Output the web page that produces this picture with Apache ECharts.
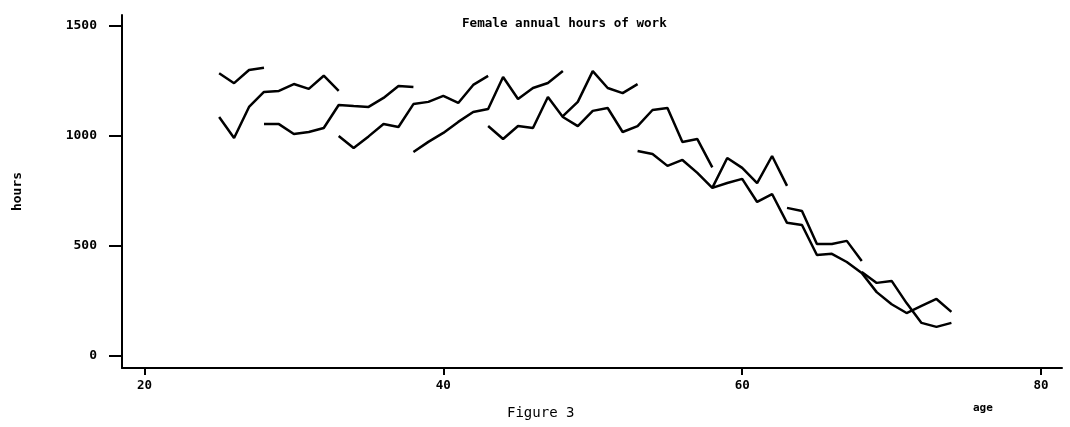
<!DOCTYPE html>
<html>
<head>
<meta charset="utf-8">
<script src="https://cdn.jsdelivr.net/npm/echarts@6/dist/echarts.min.js"></script>
<style>
html, body { margin: 0; padding: 0; background: #fff; }
#main { width: 1070px; height: 427px; }
</style>
</head>
<body>
<div id="main"></div>
<script>
// tick values
var xTicks = [20, 40, 60, 80];
var yTicks = [0, 500, 1000, 1500];

// cohort segments: first age + hours per year of age
var cohortStart = [25, 25, 28, 33, 38, 43, 48, 53, 58, 63, 68];
var cohortA = [1285, 1240, 1300, 1310];
var cohortB = [1086, 991, 1132, 1200, 1205, 1236, 1214, 1274, 1205];
var cohortC = [1054, 1054, 1009, 1018, 1036, 1141, 1136, 1132, 1173, 1227, 1223];
var cohortD = [1000, 945, 998, 1054, 1041, 1145, 1155, 1182, 1150, 1232, 1273];
var cohortE = [927, 973, 1014, 1064, 1109, 1123, 1268, 1168, 1218, 1241, 1295];
var cohortF = [1045, 986, 1045, 1036, 1177, 1086, 1045, 1114, 1127, 1018, 1045, 1118, 1127, 973, 986, 857];
var cohortG = [1090, 1155, 1295, 1218, 1195, 1236];
var cohortH = [932, 918, 864, 891, 832, 764, 786, 805, 700, 736, 605, 595, 459, 464, 427, 377, 290, 235, 195, 227, 259, 200];
var cohortI = [764, 900, 855, 786, 909, 773];
var cohortJ = [673, 659, 509, 509, 523, 432];
var cohortK = [382, 332, 341, 240, 150, 132, 150];

var cohorts = [cohortA, cohortB, cohortC, cohortD, cohortE, cohortF, cohortG, cohortH, cohortI, cohortJ, cohortK];

var mono = '"DejaVu Sans Mono", monospace';

var myChart = echarts.init(document.getElementById('main'));

var series = [];
for (var i = 0; i < cohorts.length; i++) {
    var pts = [];
    for (var j = 0; j < cohorts[i].length; j++) {
        pts.push([cohortStart[i] + j, cohorts[i][j]]);
    }
    series.push({
        type: 'line',
        data: pts,
        showSymbol: false,
        symbol: 'none',
        lineStyle: { color: '#000', width: 2.5 },
        silent: true
    });
}

var option = {
    animation: false,
    backgroundColor: '#fff',
    grid: { left: 122, right: 8, top: 15, bottom: 59 },
    xAxis: {
        type: 'value',
        min: 18.5,
        max: 81.4,
        splitLine: { show: false },
        axisLine: { onZero: false, lineStyle: { color: '#000', width: 2 } },
        axisTick: {
            customValues: xTicks,
            length: 7,
            lineStyle: { color: '#000', width: 2 }
        },
        axisLabel: {
            customValues: xTicks,
            margin: 11,
            color: '#000',
            fontFamily: mono,
            fontWeight: 'bold',
            fontSize: 12.5,
            formatter: function (v) { return String(v); }
        }
    },
    yAxis: {
        type: 'value',
        min: -55,
        max: 1550,
        name: 'hours',
        nameLocation: 'middle',
        nameRotate: 90,
        nameGap: 98,
        nameTextStyle: { color: '#000', fontFamily: mono, fontWeight: 'bold', fontSize: 13 },
        splitLine: { show: false },
        axisLine: { show: true, lineStyle: { color: '#000', width: 2 } },
        axisTick: {
            show: true,
            customValues: yTicks,
            length: 13,
            lineStyle: { color: '#000', width: 2 }
        },
        axisLabel: {
            customValues: yTicks,
            margin: 25,
            color: '#000',
            fontFamily: mono,
            fontWeight: 'bold',
            fontSize: 13,
            formatter: function (v) { return String(v); }
        }
    },
    graphic: [
        {
            type: 'text', left: 462, top: 17,
            style: { text: 'Female annual hours of work', fill: '#000', font: 'bold 12.6px ' + mono }
        },
        {
            type: 'text', left: 973, top: 403,
            style: { text: 'age', fill: '#000', font: 'bold 11px ' + mono }
        },
        {
            type: 'text', left: 507, top: 406,
            style: { text: 'Figure 3', fill: '#000', font: '14px ' + mono }
        }
    ],
    series: series
};

myChart.setOption(option);
</script>
</body>
</html>
